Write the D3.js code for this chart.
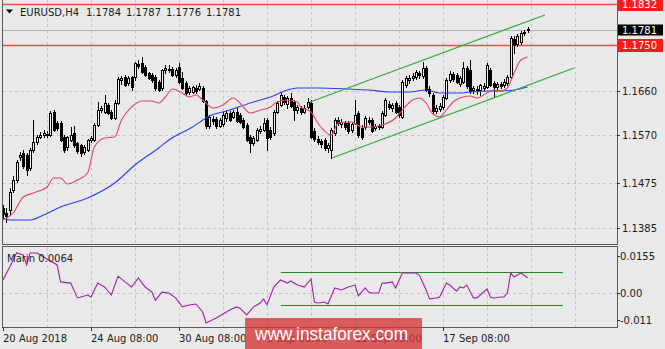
<!DOCTYPE html>
<html><head><meta charset="utf-8">
<script src="https://cdn.jsdelivr.net/npm/d3@7"></script>
<style>html,body{margin:0;padding:0;background:#e9e9e9;}svg{display:block;font-family:"DejaVu Sans",sans-serif;}</style>
</head><body><svg id="c" width="665" height="349"></svg>
<script>
// ---------- data ----------
const symbolTitle = "EURUSD,H4";
const lastOHLC = ["1.1784","1.1787","1.1776","1.1781"];
const opens = [1.1425,1.1415,1.1421,1.1461,1.1481,1.1527,1.1535,1.1531,1.1505,1.1541,
1.1557,1.1567,1.1571,1.1573,1.1571,1.1617,1.1595,1.1595,1.1567,1.1547,
1.1561,1.1575,1.1555,1.1551,1.1537,1.1541,1.1561,1.1561,1.1591,1.1621,
1.1617,1.1631,1.1617,1.1605,1.1635,1.1681,1.1687,1.1675,1.1687,1.1687,
1.1713,1.1715,1.1707,1.1695,1.1691,1.1687,1.1677,1.1665,1.1701,1.1703,
1.1703,1.1691,1.1707,1.1685,1.1675,1.1657,1.1657,1.1665,1.1663,1.1665,
1.1639,1.1589,1.1603,1.1603,1.1589,1.1593,1.1605,1.1615,1.1607,1.1617,
1.1611,1.1601,1.1591,1.1567,1.1555,1.1561,1.1579,1.1581,1.1601,1.1581,
1.1575,1.1617,1.1631,1.1647,1.1633,1.1645,1.1637,1.1621,1.1625,1.1617,
1.1627,1.1635,1.1579,1.1563,1.1559,1.1561,1.1545,1.1541,1.1575,1.1601,
1.1593,1.1595,1.1595,1.1581,1.1595,1.1615,1.1585,1.1587,1.1601,1.1601,
1.1585,1.1589,1.1587,1.1611,1.1633,1.1625,1.1635,1.1627,1.1607,1.1671,
1.1681,1.1685,1.1687,1.1695,1.1689,1.1705,1.1663,1.1651,1.1619,1.1623,
1.1627,1.1645,1.1681,1.1693,1.1691,1.1673,1.1677,1.1705,1.1701,1.1661,
1.1663,1.1661,1.1665,1.1667,1.1701,1.1675,1.1667,1.1673,1.1671,1.1675,
1.1687,1.1763,1.1753,1.1757,1.1775,1.1784];
const highs = [1.1431,1.1425,1.1465,1.1489,1.1521,1.1537,1.1541,1.1535,1.1545,1.1601,
1.1571,1.1577,1.1581,1.1579,1.1619,1.1621,1.1599,1.1599,1.1571,1.1569,
1.1587,1.1589,1.1557,1.1553,1.1551,1.1563,1.1569,1.1595,1.1637,1.1629,
1.1651,1.1635,1.1621,1.1641,1.1687,1.1689,1.1691,1.1689,1.1689,1.1717,
1.1721,1.1727,1.1711,1.1697,1.1695,1.1691,1.1681,1.1703,1.1711,1.1711,
1.1707,1.1705,1.1715,1.1697,1.1679,1.1669,1.1669,1.1671,1.1675,1.1669,
1.1641,1.1611,1.1609,1.1607,1.1605,1.1617,1.1621,1.1619,1.1621,1.1625,
1.1615,1.1605,1.1595,1.1571,1.1569,1.1585,1.1589,1.1605,1.1605,1.1587,
1.1621,1.1639,1.1657,1.1651,1.1649,1.1655,1.1641,1.1631,1.1629,1.1631,
1.1645,1.1641,1.1585,1.1569,1.1563,1.1565,1.1555,1.1585,1.1605,1.1607,
1.1603,1.1599,1.1599,1.1597,1.1641,1.1619,1.1591,1.1609,1.1607,1.1605,
1.1593,1.1593,1.1619,1.1645,1.1639,1.1635,1.1639,1.1631,1.1681,1.1689,
1.1691,1.1695,1.1701,1.1699,1.1717,1.1709,1.1669,1.1655,1.1631,1.1635,
1.1651,1.1685,1.1699,1.1697,1.1695,1.1689,1.1717,1.1709,1.1721,1.1669,
1.1669,1.1673,1.1675,1.1715,1.1705,1.1679,1.1677,1.1677,1.1683,1.1691,
1.1769,1.1769,1.1773,1.1779,1.1781,1.1787];
const lows = [1.1405,1.1397,1.1413,1.1457,1.1477,1.1521,1.1505,1.1491,1.1501,1.1537,
1.1553,1.1565,1.1567,1.1567,1.1569,1.1579,1.1581,1.1559,1.1537,1.1541,
1.1559,1.1547,1.1535,1.1529,1.1533,1.1539,1.1557,1.1559,1.1589,1.1617,
1.1615,1.1613,1.1603,1.1603,1.1633,1.1673,1.1669,1.1671,1.1661,1.1681,
1.1705,1.1695,1.1689,1.1683,1.1677,1.1661,1.1659,1.1661,1.1695,1.1697,
1.1689,1.1687,1.1675,1.1663,1.1651,1.1653,1.1655,1.1655,1.1661,1.1637,
1.1585,1.1585,1.1593,1.1585,1.1587,1.1589,1.1599,1.1599,1.1605,1.1597,
1.1595,1.1585,1.1559,1.1537,1.1551,1.1559,1.1575,1.1579,1.1541,1.1563,
1.1571,1.1615,1.1629,1.1633,1.1625,1.1627,1.1601,1.1615,1.1613,1.1615,
1.1625,1.1565,1.1559,1.1553,1.1547,1.1541,1.1537,1.1525,1.1571,1.1591,
1.1587,1.1583,1.1575,1.1577,1.1593,1.1567,1.1563,1.1583,1.1593,1.1577,
1.1581,1.1583,1.1585,1.1609,1.1623,1.1619,1.1615,1.1607,1.1605,1.1667,
1.1675,1.1681,1.1683,1.1685,1.1685,1.1659,1.1649,1.1615,1.1615,1.1619,
1.1623,1.1643,1.1677,1.1679,1.1675,1.1669,1.1675,1.1665,1.1655,1.1655,
1.1653,1.1651,1.1659,1.1665,1.1669,1.1647,1.1663,1.1665,1.1667,1.1671,
1.1685,1.1735,1.1749,1.1753,1.1771,1.1776];
const closes = [1.1413,1.1409,1.1457,1.1481,1.1517,1.1531,1.1509,1.1501,1.1541,1.1557,
1.1567,1.1571,1.1575,1.1571,1.1615,1.1581,1.1585,1.1561,1.1541,1.1567,
1.1571,1.1551,1.1539,1.1535,1.1547,1.1561,1.1565,1.1591,1.1621,1.1625,
1.1635,1.1615,1.1605,1.1635,1.1683,1.1685,1.1671,1.1685,1.1667,1.1715,
1.1709,1.1697,1.1691,1.1685,1.1681,1.1665,1.1661,1.1701,1.1705,1.1701,
1.1691,1.1701,1.1677,1.1665,1.1655,1.1665,1.1667,1.1659,1.1669,1.1639,
1.1589,1.1607,1.1599,1.1589,1.1601,1.1611,1.1615,1.1601,1.1617,1.1599,
1.1597,1.1587,1.1561,1.1555,1.1565,1.1581,1.1583,1.1595,1.1565,1.1567,
1.1617,1.1635,1.1651,1.1637,1.1645,1.1629,1.1621,1.1627,1.1617,1.1625,
1.1637,1.1567,1.1563,1.1557,1.1553,1.1545,1.1551,1.1581,1.1601,1.1595,
1.1597,1.1587,1.1579,1.1593,1.1611,1.1571,1.1567,1.1605,1.1597,1.1579,
1.1589,1.1587,1.1615,1.1641,1.1627,1.1631,1.1617,1.1611,1.1677,1.1685,
1.1685,1.1689,1.1697,1.1691,1.1705,1.1661,1.1655,1.1619,1.1625,1.1629,
1.1647,1.1681,1.1693,1.1683,1.1677,1.1685,1.1705,1.1669,1.1659,1.1665,
1.1659,1.1671,1.1669,1.1711,1.1671,1.1667,1.1673,1.1669,1.1677,1.1687,
1.1765,1.1751,1.1769,1.1775,1.1777,1.1781];

const maRedIdx = [0,3,6,9,13,15,17,19,22,25,27,30,33,35,38,41,44,46,48,50,53,55,57,59,62,65,68,70,73,76,79,81,84,87,88,91,93,97,99,103,106,109,112,116,118,121,123,125,127,129,131,133,135,138,140,143,145,147,149,151,153,155];
const maRed = [1.1401,1.1415,1.1447,1.1455,1.1467,1.1485,1.1485,1.1473,1.1481,1.1495,1.1547,1.1565,1.1567,1.1601,1.1627,1.1639,1.1639,1.1635,1.1647,1.1663,1.1655,1.1647,1.1651,1.1641,1.1625,1.1631,1.1645,1.1635,1.1615,1.1621,1.1627,1.1637,1.1641,1.1637,1.1627,1.1617,1.1595,1.1571,1.1595,1.1597,1.1587,1.1587,1.1591,1.1605,1.1621,1.1641,1.1645,1.1635,1.1613,1.1607,1.1621,1.1637,1.1645,1.1649,1.1645,1.1655,1.1661,1.1659,1.1665,1.1695,1.1721,1.1727];
const maBlueIdx = [0,2,8,12,17,25,33,39,46,49,56,61,67,73,79,84,87,93,102,108,114,120,125,129,135,138,144,147,151,155];
const maBlue = [1.1405,1.1401,1.1401,1.1411,1.1427,1.1445,1.1475,1.1511,1.1545,1.1561,1.1587,1.1609,1.1621,1.1635,1.1647,1.1661,1.1665,1.1665,1.1663,1.1661,1.1657,1.1657,1.1661,1.1655,1.1655,1.1657,1.1659,1.1659,1.1661,1.1667];

const indName = "Marin 0.0064";
const indIdx = [0,2,4,6,7,8,10,12,16,17,20,22,25,26,28,30,32,34,36,38,40,42,44,45,47,49,51,53,55,57,59,60,63,65,67,69,70,72,74,76,77,78,80,82,84,85,87,89,91,92,93,95,96,98,100,102,104,105,107,108,109,111,112,113,115,116,118,120,122,123,125,126,128,129,131,132,134,135,136,137,139,140,141,143,144,145,147,148,149,150,151,153,155];
const indVal = [0.0055,0.0108,0.0166,0.0158,0.0117,0.0166,0.0166,0.0150,0.0117,0.0047,0.0042,-0.0019,-0.0007,-0.0015,0.0042,0.0026,-0.0007,0.0071,0.0047,0.0026,0.0063,0.0026,0.0005,-0.0028,0.0005,0.0001,-0.0019,-0.0056,-0.0048,-0.0044,-0.0077,-0.0122,-0.0102,-0.0085,-0.0069,-0.0056,-0.0061,-0.0089,-0.0056,-0.0040,-0.0023,-0.0048,0.0026,0.0055,0.0042,0.0051,0.0034,0.0026,0.0059,-0.0036,-0.0040,-0.0036,-0.0044,0.0022,0.0014,0.0026,0.0034,-0.0011,0.0022,0.0005,0.0001,0.0001,0.0042,0.0042,0.0047,0.0022,0.0084,0.0084,0.0084,0.0075,0.0014,-0.0023,-0.0019,-0.0015,0.0042,0.0034,0.0009,0.0026,0.0022,0.0034,-0.0019,-0.0019,-0.0007,0.0018,-0.0015,-0.0019,-0.0015,-0.0015,0.0001,0.0084,0.0067,0.0084,0.0064];
const indLevels = [0.0089, -0.0049];
const indLevelSpan = [82.1, 165.4];
const indTicks = [0.0155, 0.00, -0.011];
const indTickLabels = ["0.0155", "0.00", "-0.011"];

const priceTicks = [1.1750, 1.1660, 1.1570, 1.1475, 1.1385];
const priceTickLabels = ["1.1750","1.1660","1.1570","1.1475","1.1385"];
const levels = [1.1832, 1.1750];
const levelLabels = ["1.1832", "1.1750"];
const lastPrice = 1.1781;
const lastPriceLabel = "1.1781";
const chanUpper = [[90.7, 1.1637], [160.1, 1.1811]];
const chanLower = [[97.2, 1.1525], [168.7, 1.1705]];

const timeIdx = [0, 26, 52, 78, 104, 130];
const timeLabels = ["20 Aug 2018", "24 Aug 08:00", "30 Aug 08:00", "5 Sep 08:00", "11 Sep 08:00", "17 Sep 08:00"];
const gridStep = 13;
const watermark = "www.instaforex.com";

// ---------- layout ----------
const W = 665, H = 349;
const L = 3, R = 617, mTop = 0, mBot = 244, iTop = 247, iBot = 327;
const svg = d3.select("#c");
svg.append("rect").attr("width", W).attr("height", H).attr("fill", "#e9e9e9");

const x = d3.scaleLinear().domain([0, 181.4]).range([L, R]);
const y = d3.scaleLinear().domain([1.1353, 1.1841]).range([mBot, mTop]);
const yi = d3.scaleLinear().domain([-0.011, 0.0155]).range([320, 255.7]);

const defs = svg.append("defs");
defs.append("clipPath").attr("id", "cm").append("rect").attr("x", L).attr("y", mTop).attr("width", R - L).attr("height", mBot - mTop);
defs.append("clipPath").attr("id", "ci").append("rect").attr("x", L).attr("y", iTop).attr("width", R - L).attr("height", iBot - iTop);

const gridCol = "#c4c4c4";
// vertical grid
const vIdx = d3.range(gridStep, 182, gridStep);
[[mTop, mBot], [iTop, iBot]].forEach(([a, b]) => {
  svg.append("g").selectAll("line").data(vIdx).join("line")
    .attr("x1", d => Math.round(x(d)) + 0.5).attr("x2", d => Math.round(x(d)) + 0.5)
    .attr("y1", a).attr("y2", b).attr("stroke", gridCol).attr("stroke-dasharray", "3,3");
});
// horizontal grid
svg.append("g").selectAll("line").data(priceTicks).join("line")
  .attr("x1", L).attr("x2", R).attr("y1", d => Math.round(y(d)) + 0.5).attr("y2", d => Math.round(y(d)) + 0.5)
  .attr("stroke", gridCol).attr("stroke-dasharray", "3,3");
svg.append("line").attr("x1", L).attr("x2", R).attr("y1", Math.round(yi(0)) + 0.5).attr("y2", Math.round(yi(0)) + 0.5)
  .attr("stroke", gridCol).attr("stroke-dasharray", "3,3");

const gm = svg.append("g").attr("clip-path", "url(#cm)");
// bid line
gm.append("line").attr("x1", L).attr("x2", R).attr("y1", Math.round(y(lastPrice)) + 0.5).attr("y2", Math.round(y(lastPrice)) + 0.5)
  .attr("stroke", "#b4b4b4");
// level lines
gm.selectAll("line.lv").data(levels).join("line").attr("class", "lv")
  .attr("x1", L).attr("x2", R).attr("y1", d => y(d)).attr("y2", d => y(d))
  .attr("stroke", "#ff4a4a").attr("stroke-width", 1.5);

// candles
const cg = gm.append("g").attr("shape-rendering", "crispEdges");
opens.forEach((o, i) => {
  const c = closes[i], h = highs[i], l = lows[i];
  const cx = Math.round(x(i));
  const top = Math.round(y(Math.max(o, c))), bot = Math.round(y(Math.min(o, c)));
  cg.append("rect").attr("x", cx).attr("y", Math.round(y(h))).attr("width", 1)
    .attr("height", Math.max(1, Math.round(y(l)) - Math.round(y(h)) + 1)).attr("fill", "#000");
  cg.append("rect").attr("x", cx - 1).attr("y", top).attr("width", 3).attr("height", Math.max(1, bot - top + 1)).attr("fill", "#000");
  if (c > o && bot - top >= 2) {
    cg.append("rect").attr("x", cx).attr("y", top + 1).attr("width", 1).attr("height", bot - top - 1).attr("fill", "#f4f4f4");
  }
});

// moving averages
const line = d3.line().x(d => x(d[0])).y(d => y(d[1])).curve(d3.curveMonotoneX);
gm.append("path").attr("d", line(d3.zip(maBlueIdx, maBlue))).attr("fill", "none").attr("stroke", "#2b3ff0").attr("stroke-width", 1.1);
gm.append("path").attr("d", line(d3.zip(maRedIdx, maRed))).attr("fill", "none").attr("stroke", "#e8435c").attr("stroke-width", 1.1);
// channel
[chanUpper, chanLower].forEach(ch => {
  gm.append("line").attr("x1", x(ch[0][0])).attr("y1", y(ch[0][1])).attr("x2", x(ch[1][0])).attr("y2", y(ch[1][1]))
    .attr("stroke", "#35a835").attr("stroke-width", 1.1);
});

// indicator panel
const gi = svg.append("g").attr("clip-path", "url(#ci)");
gi.selectAll("line.il").data(indLevels).join("line").attr("class", "il")
  .attr("x1", x(indLevelSpan[0])).attr("x2", x(indLevelSpan[1]))
  .attr("y1", d => Math.round(yi(d)) + 0.5).attr("y2", d => Math.round(yi(d)) + 0.5).attr("stroke", "#1f8a1f");
const iline = d3.line().x(d => x(d[0])).y(d => yi(d[1]));
gi.append("path").attr("d", iline(d3.zip(indIdx, indVal))).attr("fill", "none").attr("stroke", "#a21ea8").attr("stroke-width", 1.1);

// frames
const frameCol = "#5c5c5c";
svg.append("rect").attr("x", L - 0.5).attr("y", -0.5).attr("width", R - L + 1).attr("height", mBot + 1)
  .attr("fill", "none").attr("stroke", frameCol);
svg.append("rect").attr("x", L - 0.5).attr("y", iTop - 0.5).attr("width", R - L + 1).attr("height", iBot - iTop + 1)
  .attr("fill", "none").attr("stroke", frameCol);

const txt = "#1c1c1c";
// title
svg.append("path").attr("d", "M6,9.5L13,9.5L9.5,13.5Z").attr("fill", "#000");
svg.append("text").attr("x", 20).attr("y", 16).attr("font-size", 10).attr("fill", txt).text(symbolTitle);
svg.append("g").selectAll("text").data(lastOHLC).join("text")
  .attr("x", (d, i) => 86 + 40 * i).attr("y", 16).attr("font-size", 10).attr("fill", txt).text(d => d);
svg.append("text").attr("x", 7).attr("y", 262).attr("font-size", 10).attr("fill", txt).text(indName);

// right price axis
const ax = svg.append("g");
priceTicks.forEach((p, i) => {
  const yy = Math.round(y(p)) + 0.5;
  ax.append("line").attr("x1", R).attr("x2", R + 3).attr("y1", yy).attr("y2", yy).attr("stroke", "#333");
  ax.append("text").attr("x", 622).attr("y", yy).attr("dy", "0.35em").attr("font-size", 10).attr("fill", txt).text(priceTickLabels[i]);
});
indTicks.forEach((v, i) => {
  const yy = Math.round(yi(v)) + 0.5;
  ax.append("line").attr("x1", R).attr("x2", R + 3).attr("y1", yy).attr("y2", yy).attr("stroke", "#333");
  ax.append("text").attr("x", 620).attr("y", yy).attr("dy", "0.35em").attr("font-size", 10).attr("fill", txt).text(indTickLabels[i]);
});
levels.forEach((p, i) => {
  const yy = y(p);
  ax.append("rect").attr("x", R).attr("y", yy - 6.5).attr("width", 46).attr("height", 13).attr("fill", "#ff1a1a");
  ax.append("text").attr("x", 622).attr("y", yy).attr("dy", "0.36em").attr("font-size", 10).attr("fill", "#fff").text(levelLabels[i]);
});
{
  const yy = y(lastPrice);
  ax.append("rect").attr("x", R + 1).attr("y", yy - 5.5).attr("width", 45).attr("height", 11).attr("fill", "#000");
  ax.append("text").attr("x", 622).attr("y", yy).attr("dy", "0.36em").attr("font-size", 10).attr("fill", "#fff").text(lastPriceLabel);
}

// time axis
timeIdx.forEach((t, i) => {
  const xx = Math.round(x(t)) + 0.5;
  ax.append("line").attr("x1", xx).attr("x2", xx).attr("y1", iBot).attr("y2", iBot + 4).attr("stroke", "#333");
  ax.append("text").attr("x", Math.round(x(t))).attr("y", 342).attr("font-size", 10).attr("fill", txt).text(timeLabels[i]);
});

// watermark
svg.append("rect").attr("x", 245).attr("y", 318).attr("width", 177).attr("height", 31).attr("fill", "rgba(212,52,52,0.78)");
svg.append("text").attr("x", 255).attr("y", 340).attr("font-family", "'Liberation Sans',Arial,sans-serif")
  .attr("font-size", 19).attr("fill", "#fff").attr("textLength", 153).attr("lengthAdjust", "spacingAndGlyphs").text(watermark);
</script></body></html>
